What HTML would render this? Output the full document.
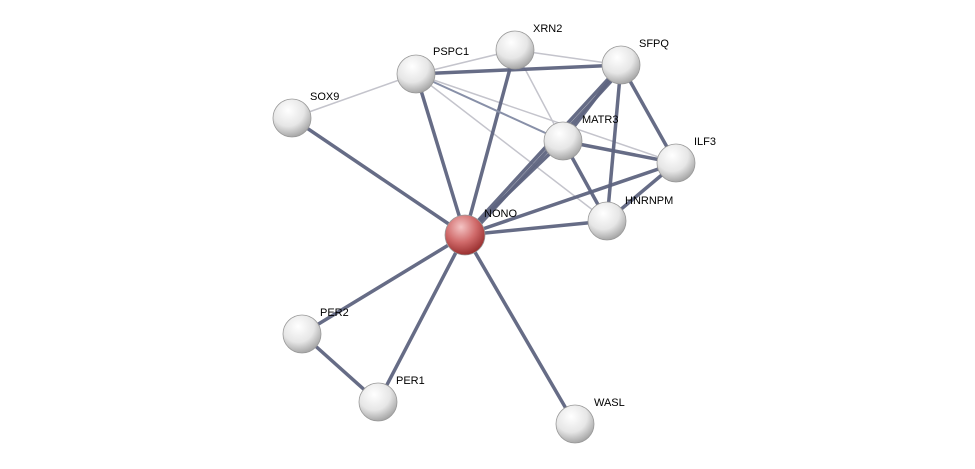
<!DOCTYPE html>
<html><head><meta charset="utf-8"><style>
html,body{margin:0;padding:0;background:#fff;}
svg{display:block;}
text{font-family:"Liberation Sans",sans-serif;font-size:11px;fill:#000;}
</style></head><body>
<svg width="975" height="469" viewBox="0 0 975 469" xmlns="http://www.w3.org/2000/svg">
<defs>
<radialGradient id="g" cx="40%" cy="30%" r="70%">
<stop offset="0" stop-color="#ffffff"/><stop offset="0.6" stop-color="#e6e6e6"/><stop offset="1" stop-color="#a8a8a8"/>
</radialGradient>
<radialGradient id="r" cx="40%" cy="30%" r="70%">
<stop offset="0" stop-color="#f4c4c4"/><stop offset="0.55" stop-color="#d06a6a"/><stop offset="1" stop-color="#9a3030"/>
</radialGradient>
</defs>
<g stroke="#c4c4cc" stroke-width="1.5" fill="none">
<line x1="416" y1="74" x2="292" y2="118"/>
<line x1="416" y1="74" x2="515" y2="50"/>
<line x1="416" y1="74" x2="607" y2="221"/>
<line x1="515" y1="50" x2="621" y2="65"/>
<line x1="515" y1="50" x2="563" y2="141"/>
<line x1="416" y1="74" x2="676" y2="163"/>
</g>
<g stroke="#5e6480" stroke-width="3.5" fill="none" stroke-opacity="0.95">
<line x1="465" y1="235" x2="292" y2="118"/>
<line x1="465" y1="235" x2="416" y2="74"/>
<line x1="465" y1="235" x2="515" y2="50"/>
<line x1="465" y1="235" x2="621" y2="65"/>
<line x1="470" y1="235" x2="626" y2="65"/>
<line x1="465" y1="235" x2="563" y2="141"/>
<line x1="465" y1="235" x2="676" y2="163"/>
<line x1="465" y1="235" x2="607" y2="221"/>
<line x1="465" y1="235" x2="302" y2="334"/>
<line x1="465" y1="235" x2="378" y2="402"/>
<line x1="465" y1="235" x2="575" y2="424"/>
<line x1="302" y1="334" x2="378" y2="402"/>
<line x1="416" y1="74" x2="621" y2="65"/>
<line x1="621" y1="65" x2="563" y2="141"/>
<line x1="621" y1="65" x2="676" y2="163"/>
<line x1="621" y1="65" x2="607" y2="221"/>
<line x1="563" y1="141" x2="676" y2="163"/>
<line x1="563" y1="141" x2="607" y2="221"/>
<line x1="676" y1="163" x2="607" y2="221"/>
</g>
<g stroke="#8890a8" stroke-width="2" fill="none">
<line x1="416" y1="74" x2="563" y2="141"/>
</g>
<g stroke="#999" stroke-width="0.8">
<circle cx="465" cy="235" r="20" fill="url(#r)"/>
<circle cx="416" cy="74" r="19" fill="url(#g)"/>
<circle cx="515" cy="50" r="19" fill="url(#g)"/>
<circle cx="621" cy="65" r="19" fill="url(#g)"/>
<circle cx="292" cy="118" r="19" fill="url(#g)"/>
<circle cx="563" cy="141" r="19" fill="url(#g)"/>
<circle cx="676" cy="163" r="19" fill="url(#g)"/>
<circle cx="607" cy="221" r="19" fill="url(#g)"/>
<circle cx="302" cy="334" r="19" fill="url(#g)"/>
<circle cx="378" cy="402" r="19" fill="url(#g)"/>
<circle cx="575" cy="424" r="19" fill="url(#g)"/>
</g>
<text x="484" y="217">NONO</text>
<text x="433" y="55">PSPC1</text>
<text x="533" y="32">XRN2</text>
<text x="639" y="47">SFPQ</text>
<text x="310" y="100">SOX9</text>
<text x="582" y="123">MATR3</text>
<text x="694" y="145">ILF3</text>
<text x="625" y="204">HNRNPM</text>
<text x="320" y="316">PER2</text>
<text x="396" y="384">PER1</text>
<text x="594" y="406">WASL</text>
</svg>
</body></html>
